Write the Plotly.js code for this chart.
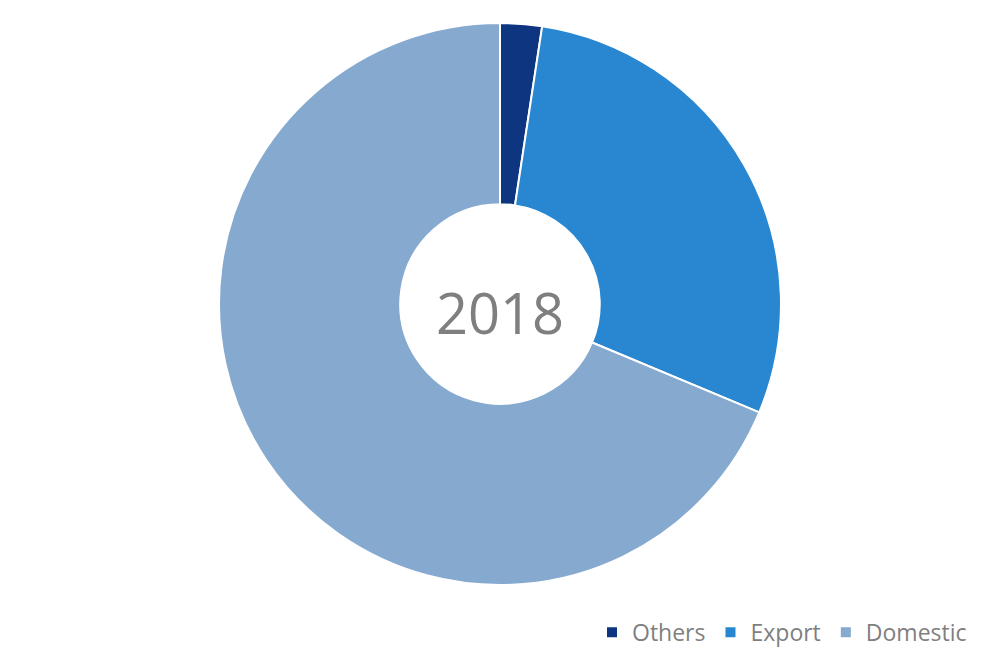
<!DOCTYPE html>
<html>
<head>
<meta charset="utf-8">
<script src="https://cdn.plot.ly/plotly-3.0.1.min.js"></script>
<style>html,body{margin:0;padding:0;background:#fff;}#chart{width:1000px;height:667px;}</style>
</head>
<body>
<div id="chart"></div>
<script>
const categories = ["Others", "Export", "Domestic"];
const values = [2.4, 28.9, 68.7];
const colors = ["#0d3580", "#2887d0", "#85a9cf"];
const centerLabel = "2018";

const trace = {
  type: "pie",
  labels: categories,
  values: values,
  hole: 0.355,
  sort: false,
  direction: "clockwise",
  rotation: 0,
  textinfo: "none",
  hoverinfo: "label+value",
  marker: { colors: colors, line: { color: "#ffffff", width: 2 } },
  domain: { x: [0.219, 0.781], y: [0.1229, 0.9655] }
};

const layout = {
  width: 1000, height: 667,
  margin: { l: 0, r: 0, t: 0, b: 0 },
  paper_bgcolor: "#ffffff",
  font: { family: "Open Sans, Noto Sans, sans-serif", color: "#7f7f7f" },
  showlegend: true,
  legend: {
    orientation: "h",
    x: 0.972, xanchor: "right",
    y: 0.052, yanchor: "middle",
    font: { size: 23, color: "#7f7f7f" },
    itemclick: false
  },
  annotations: [{
    text: centerLabel,
    x: 0.5, y: 1 - 312 / 667,
    xref: "paper", yref: "paper",
    showarrow: false,
    font: { size: 56, color: "#7f7f7f" }
  }]
};

Plotly.newPlot("chart", [trace], layout, { displayModeBar: false, staticPlot: true });
</script>
</body>
</html>
